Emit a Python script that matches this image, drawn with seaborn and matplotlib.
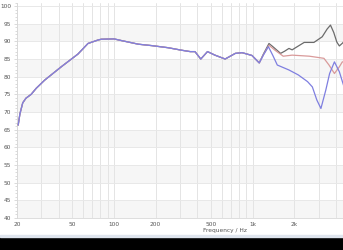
import numpy as np
import pandas as pd
import matplotlib
matplotlib.use("Agg")
import matplotlib.pyplot as plt
import matplotlib.ticker as mticker
from matplotlib.patches import Rectangle
import seaborn as sns

# ---- data ----
shared_freq = [20.4, 21.0, 22.0, 23.2, 25.3, 27.5, 31.6, 41.7, 55, 65, 77, 81, 100, 114,
               150, 187, 246, 307, 355, 384, 423, 473, 535, 634, 751, 840, 913, 990, 1117]
shared_db = [66.3, 69.5, 72.6, 73.9, 75.0, 76.7, 79.0, 82.8, 86.4, 89.4, 90.4, 90.6, 90.7, 90.2,
             89.2, 88.8, 88.2, 87.5, 87.1, 87.1, 85.0, 87.1, 86.1, 85.0, 86.6, 86.8, 86.4, 86.0, 83.9]

black_freq = [1200, 1313, 1400, 1592, 1700, 1829, 1929, 2100, 2355, 2769, 3178, 3450, 3645,
              3850, 4050, 4223, 4450, 4800]
black_db = [86.5, 89.4, 88.5, 86.6, 87.2, 88.0, 87.6, 88.5, 89.7, 89.7, 91.3, 93.5, 94.6,
            92.5, 89.8, 88.7, 89.5, 91.0]

red_freq = [1200, 1313, 1450, 1663, 1929, 2567, 3270, 3557, 3893, 4223, 4440, 4800]
red_db = [86.3, 88.9, 87.5, 85.8, 86.1, 85.8, 85.2, 83.3, 80.9, 82.8, 84.2, 84.2]

blue_freq = [1200, 1300, 1400, 1507, 1829, 2136, 2491, 2698, 2906, 3110, 3372, 3593, 3893,
             4223, 4600, 4800]
blue_db = [86.2, 88.5, 86.0, 83.3, 81.9, 80.5, 78.6, 77.1, 73.4, 71.0, 76.2, 80.9, 84.2,
           81.4, 76.7, 75.5]

y_ticks = [40, 45, 50, 55, 60, 65, 70, 75, 80, 85, 90, 95, 100]
x_ticks = [20, 50, 100, 200, 500, 1000, 2000]
x_tick_labels = ["20", "50", "100", "200", "500", "1k", "2k"]
x_label = "Frequency / Hz"

# ---- figure ----
sns.set_theme(style="white")
plt.rcParams["font.family"] = ["DejaVu Sans"]

W, H = 343, 250
fig = plt.figure(figsize=(W / 100, H / 100), dpi=100)
fig.patch.set_facecolor("white")
ax = fig.add_axes([17 / W, 32 / H, 416 / W, 215.5 / H])
ax.set_facecolor("white")

ax.set_xscale("log")
ax.set_xlim(20, 20000)
ax.set_ylim(40, 101)

# alternating bands
for lo in range(40, 100, 10):
    ax.axhspan(lo, lo + 5, color="#f6f6f6", lw=0, zorder=0)

def series(fr, db):
    return pd.DataFrame({"f": list(shared_freq) + list(fr), "db": list(shared_db) + list(db)})

for fr, db, col in [(black_freq, black_db, "#6b6b6b"),
                    (red_freq, red_db, "#d99a9a"),
                    (blue_freq, blue_db, "#7f7fe0")]:
    sns.lineplot(data=series(fr, db), x="f", y="db", color=col, lw=0.9, ax=ax, zorder=3)

# grid
ax.xaxis.set_major_locator(mticker.FixedLocator(x_ticks))
ax.xaxis.set_major_formatter(mticker.FixedFormatter(x_tick_labels))
ax.xaxis.set_minor_locator(mticker.LogLocator(base=10, subs=np.arange(1, 10), numticks=20))
ax.xaxis.set_minor_formatter(mticker.NullFormatter())
ax.set_yticks(y_ticks)
ax.yaxis.set_minor_locator(mticker.MultipleLocator(1))
ax.grid(True, which="both", axis="x", color="#e4e4e4", lw=0.7, zorder=1)
ax.grid(True, which="major", axis="y", color="#e8e8e8", lw=0.7, zorder=1)
ax.set_axisbelow(True)

ax.tick_params(axis="x", which="major", labelsize=4.2, colors="#555555", length=0, pad=3)
ax.tick_params(axis="y", which="major", labelsize=4.2, colors="#555555", length=2.5,
               pad=1.5, color="#cccccc", width=0.5, left=True)
ax.tick_params(axis="y", which="minor", length=1.5, color="#cccccc", width=0.5, left=True)
ax.tick_params(axis="x", which="minor", length=0)

for s in ["top", "right"]:
    ax.spines[s].set_visible(False)
for s in ["left", "bottom"]:
    ax.spines[s].set_color("#d8d8d8")
    ax.spines[s].set_linewidth(0.6)

ax.set_xlabel(x_label, fontsize=4.2, color="#555555")
ax.set_ylabel("")
ax.xaxis.set_label_coords(0.5, -0.045)

# bottom window strip
fig.patches.append(Rectangle((0, 0), 1, 13 / H, transform=fig.transFigure,
                             color="black", zorder=10))
fig.patches.append(Rectangle((0, 13 / H), 1, 2 / H, transform=fig.transFigure,
                             color="#dfe5ee", zorder=10))

fig.savefig("out.png", dpi=100)
